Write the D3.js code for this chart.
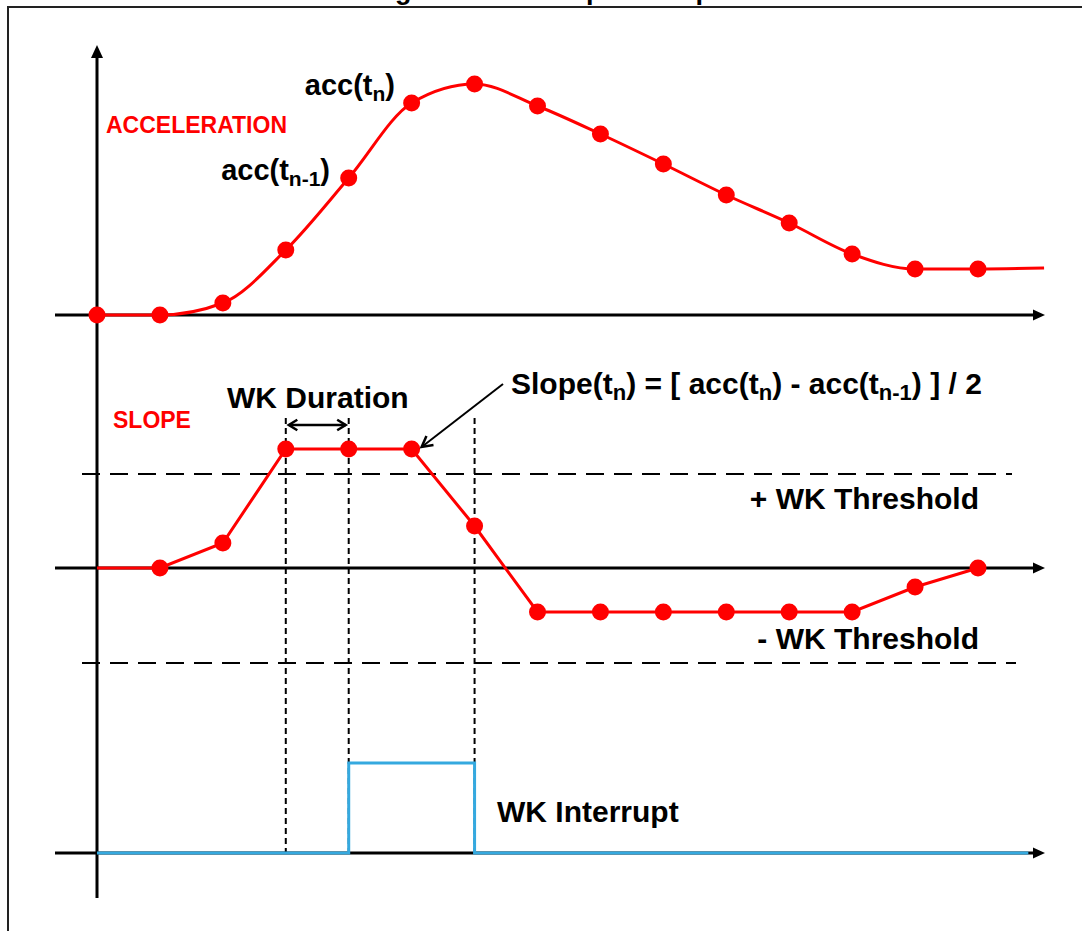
<!DOCTYPE html>
<html>
<head>
<meta charset="utf-8">
<script src="https://cdn.jsdelivr.net/npm/d3@7"></script>
<style>
  body { margin: 0; background: #fff; }
  text { font-family: "Liberation Sans", Arial, sans-serif; font-weight: bold; }
</style>
</head>
<body>
<svg id="canvas" width="1082" height="931"></svg>
<script>
// sample instants t0..t14
const sampleTimes = [0, 1, 2, 3, 4, 5, 6, 7, 8, 9, 10, 11, 12, 13, 14];
const accValues = [0, 0, 12, 65, 137, 212, 231, 209, 181, 151, 120, 92, 61, 46, 46];
const accTail = [15.05, 47];   // curve runs on past the last sample
const slopeValues = [0, 0, 25, 119, 119, 119, 42, -44, -44, -44, -44, -44, -44, -19, 0];
const thresholds = [94, -95];
const interruptSteps = [[0, 0], [4, 1], [6, 0], [14.8, 0]];
const durationMarks = [3, 4, 6];

(function (d3) {

    const RED = '#ff0000';
    const BLUE = '#35a9df';
    const AXIS_LEFT = 55, AXIS_RIGHT = 1045;

    let svg = d3.select('#canvas');

    let x = d3.scaleLinear().domain([0, 14]).range([97, 978]);
    let yAcc = d3.scaleLinear().domain([0, 240]).range([315, 75]);
    let ySlope = d3.scaleLinear().domain([-100, 100]).range([668, 468]);
    let yInt = d3.scaleLinear().domain([0, 1]).range([853, 763]);

    // frame + title (cut by the top edge, as in the source figure)
    svg.append('rect')
        .attr('x', 8).attr('y', 7).attr('width', 1200).attr('height', 1000)
        .attr('fill', 'none').attr('stroke', '#222').attr('stroke-width', 2);
    svg.append('text')
        .attr('x', 546).attr('y', -1).attr('text-anchor', 'middle')
        .attr('font-size', 27).text('Figure 9. Wake-up interrupt');

    function arrowHead(tipX, tipY, angle, len, half) {
        let c = Math.cos(angle), s = Math.sin(angle);
        let bx = tipX - len * c, by = tipY - len * s;
        return `M${tipX},${tipY} L${bx - half * s},${by + half * c} L${bx + half * s},${by - half * c} Z`;
    }

    function chevron(tipX, tipY, angle, len, spread) {
        let a1 = angle + Math.PI - spread, a2 = angle + Math.PI + spread;
        return `M${tipX + len * Math.cos(a1)},${tipY + len * Math.sin(a1)} L${tipX},${tipY} L${tipX + len * Math.cos(a2)},${tipY + len * Math.sin(a2)}`;
    }

    let axes = svg.append('g');

    // vertical axis
    axes.append('line')
        .attr('x1', x(0)).attr('x2', x(0)).attr('y1', 898).attr('y2', 56)
        .attr('stroke', '#000').attr('stroke-width', 3);
    axes.append('path').attr('d', arrowHead(x(0), 45, -Math.PI / 2, 13, 6)).attr('fill', '#000');

    // three horizontal time axes
    [yAcc(0), ySlope(0), yInt(0)].forEach(function (yy) {
        axes.append('line')
            .attr('x1', AXIS_LEFT).attr('x2', AXIS_RIGHT - 9).attr('y1', yy).attr('y2', yy)
            .attr('stroke', '#000').attr('stroke-width', 3);
        axes.append('path').attr('d', arrowHead(AXIS_RIGHT, yy, 0, 12, 5.5)).attr('fill', '#000');
    });

    // wake-up thresholds
    svg.selectAll('line.threshold')
        .data(thresholds)
        .enter().append('line')
        .classed('threshold', true)
        .attr('x1', 82).attr('x2', (d, i) => i == 0 ? 1012 : 1016)
        .attr('y1', d => ySlope(d)).attr('y2', d => ySlope(d))
        .attr('stroke', '#000').attr('stroke-width', 2).attr('stroke-dasharray', '18,10');

    // duration / interrupt markers
    svg.selectAll('line.mark')
        .data(durationMarks)
        .enter().append('line')
        .classed('mark', true)
        .attr('x1', d => x(d)).attr('x2', d => x(d))
        .attr('y1', 418).attr('y2', 858)
        .attr('stroke', '#000').attr('stroke-width', 2).attr('stroke-dasharray', '6,4');

    // acceleration curve
    let accPoints = sampleTimes.map((t, i) => [t, accValues[i]]);
    let accLine = d3.line().x(d => x(d[0])).y(d => yAcc(d[1])).curve(d3.curveMonotoneX);
    svg.append('path')
        .attr('d', accLine(accPoints.concat([accTail])))
        .attr('fill', 'none').attr('stroke', RED).attr('stroke-width', 3);
    svg.selectAll('circle.acc')
        .data(accPoints)
        .enter().append('circle')
        .classed('acc', true)
        .attr('cx', d => x(d[0])).attr('cy', d => yAcc(d[1])).attr('r', 8.5)
        .attr('fill', RED);

    // slope
    let slopePoints = sampleTimes.map((t, i) => [t, slopeValues[i]]);
    let slopeLine = d3.line().x(d => x(d[0])).y(d => ySlope(d[1]));
    svg.append('path')
        .attr('d', slopeLine(slopePoints))
        .attr('fill', 'none').attr('stroke', RED).attr('stroke-width', 3);
    svg.selectAll('circle.slope')
        .data(slopePoints.slice(1))
        .enter().append('circle')
        .classed('slope', true)
        .attr('cx', d => x(d[0])).attr('cy', d => ySlope(d[1])).attr('r', 8.5)
        .attr('fill', RED);

    // wake-up interrupt
    let intLine = d3.line().x(d => x(d[0])).y(d => yInt(d[1])).curve(d3.curveStepAfter);
    svg.append('path')
        .attr('d', intLine(interruptSteps))
        .attr('fill', 'none').attr('stroke', BLUE).attr('stroke-width', 3);

    // WK duration arrow
    let dy = 425, dx1 = x(durationMarks[0]) + 3, dx2 = x(durationMarks[1]) - 3;
    svg.append('line')
        .attr('x1', dx1).attr('x2', dx2).attr('y1', dy).attr('y2', dy)
        .attr('stroke', '#000').attr('stroke-width', 2.5);
    svg.append('path')
        .attr('d', chevron(dx1, dy, Math.PI, 10, 0.55) + chevron(dx2, dy, 0, 10, 0.55))
        .attr('fill', 'none').attr('stroke', '#000').attr('stroke-width', 2.5);

    // slope annotation arrow
    let tipX = x(5) + 10, tipY = ySlope(slopeValues[5]) - 2;
    let fromX = 503, fromY = 384;
    let ang = Math.atan2(tipY - fromY, tipX - fromX);
    svg.append('line')
        .attr('x1', fromX).attr('y1', fromY).attr('x2', tipX).attr('y2', tipY)
        .attr('stroke', '#000').attr('stroke-width', 2);
    svg.append('path')
        .attr('d', chevron(tipX, tipY, ang, 12, 0.5))
        .attr('fill', 'none').attr('stroke', '#000').attr('stroke-width', 2.5);

    // labels
    function label(px, py, parts, opts) {
        let t = svg.append('text')
            .attr('x', px).attr('y', py)
            .attr('font-size', opts.size || 29)
            .attr('fill', opts.color || '#000')
            .attr('text-anchor', opts.anchor || 'start');
        let shift = 0;
        parts.forEach(function (p) {
            let sub = typeof p !== 'string';
            let s = t.append('tspan').text(sub ? p.sub : p);
            let target = sub ? 6 : 0;
            if (target != shift) s.attr('dy', target - shift);
            if (sub) s.attr('font-size', opts.subSize || 21);
            shift = target;
        });
        return t;
    }

    label(106, 133, ['ACCELERATION'], {size: 23, color: RED});
    label(113, 428, ['SLOPE'], {size: 23, color: RED});
    label(395, 95, ['acc(t', {sub: 'n'}, ')'], {anchor: 'end'});
    label(330, 180, ['acc(t', {sub: 'n-1'}, ')'], {anchor: 'end'});
    label(227, 408, ['WK Duration'], {size: 30});
    label(511, 394, ['Slope(t', {sub: 'n'}, ') = [ acc(t', {sub: 'n'}, ') - acc(t', {sub: 'n-1'}, ') ] / 2'], {size: 30, subSize: 22});
    label(979, 509, ['+ WK Threshold'], {size: 30, anchor: 'end'});
    label(979, 649, ['- WK Threshold'], {size: 30, anchor: 'end'});
    label(497, 822, ['WK Interrupt'], {size: 30});

})(d3)
</script>
</body>
</html>
